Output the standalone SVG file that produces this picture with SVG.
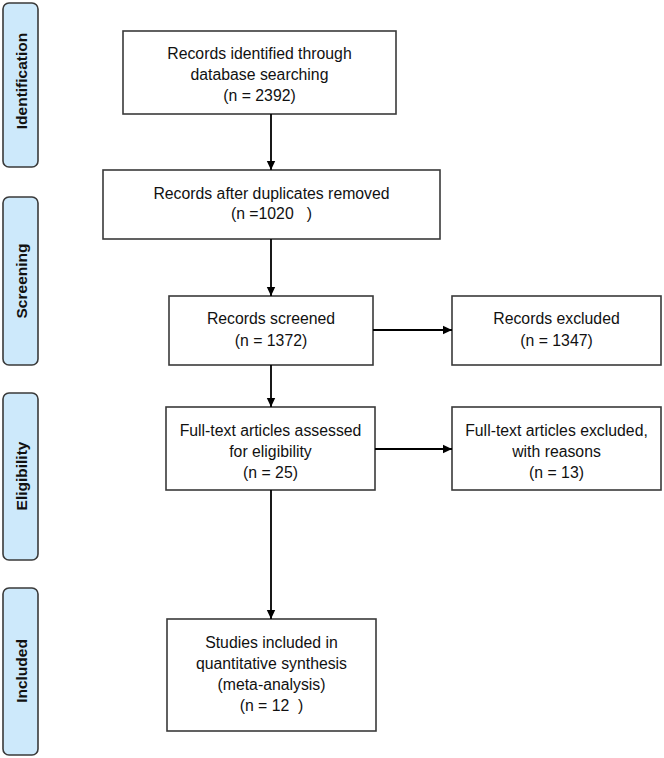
<svg xmlns="http://www.w3.org/2000/svg" width="664" height="758" viewBox="0 0 664 758">
<style>
.phase{fill:#cde9fb;stroke:#3a3a3a;stroke-width:1.6}
.box{fill:#fff;stroke:#3a3a3a;stroke-width:1.6}
.t{font-family:"Liberation Sans",Arial,sans-serif;font-size:15.8px;fill:#111;text-anchor:middle}
.pt{font-family:"Liberation Sans",Arial,sans-serif;font-size:15.5px;font-weight:bold;fill:#111;text-anchor:middle}
.c{stroke:#000;stroke-width:1.8;fill:none;marker-end:url(#ah)}
</style>
<defs>
<marker id="ah" markerWidth="10" markerHeight="10" refX="9" refY="5" orient="auto" markerUnits="userSpaceOnUse">
<path d="M0,0.8 L9,5 L0,9.2 Z" fill="#000"/>
</marker>
</defs>
<rect width="664" height="758" fill="#fff"/>
<g id="phase-identification">
<rect class="phase" x="3" y="3" width="35" height="164" rx="6"/>
<text class="pt" transform="translate(27,81) rotate(-90)">Identification</text>
</g>
<g id="phase-screening">
<rect class="phase" x="3" y="197" width="35" height="168" rx="6"/>
<text class="pt" transform="translate(27,281) rotate(-90)">Screening</text>
</g>
<g id="phase-eligibility">
<rect class="phase" x="3" y="393" width="35" height="167" rx="6"/>
<text class="pt" transform="translate(27,476) rotate(-90)">Eligibility</text>
</g>
<g id="phase-included">
<rect class="phase" x="3" y="588" width="35" height="167" rx="6"/>
<text class="pt" transform="translate(27,671) rotate(-90)">Included</text>
</g>
<g id="n-identified">
<rect class="box" x="123" y="31" width="273" height="83"/>
<text class="t" x="259.5" y="58.5">Records identified through</text>
<text class="t" x="259.5" y="79.5">database searching</text>
<text class="t" x="259.5" y="101">(n = 2392)</text>
</g>
<g id="n-deduplicated">
<rect class="box" x="103" y="170" width="337" height="69"/>
<text class="t" x="271.5" y="198.5">Records after duplicates removed</text>
<text class="t" x="271.5" y="218.5" xml:space="preserve">(n =1020   )</text>
</g>
<g id="n-screened">
<rect class="box" x="169" y="296" width="204" height="69"/>
<text class="t" x="271" y="323.5">Records screened</text>
<text class="t" x="271" y="345.5">(n = 1372)</text>
</g>
<g id="n-excluded">
<rect class="box" x="452" y="296" width="209" height="69"/>
<text class="t" x="556.5" y="323.5">Records excluded</text>
<text class="t" x="556.5" y="345.5">(n = 1347)</text>
</g>
<g id="n-fulltext">
<rect class="box" x="166" y="407" width="209" height="83"/>
<text class="t" x="270.5" y="435.5">Full-text articles assessed</text>
<text class="t" x="270.5" y="456.5">for eligibility</text>
<text class="t" x="270.5" y="477.5">(n = 25)</text>
</g>
<g id="n-fulltext-excluded">
<rect class="box" x="452" y="407" width="209" height="83"/>
<text class="t" x="556.5" y="435.5">Full-text articles excluded,</text>
<text class="t" x="556.5" y="456.5">with reasons</text>
<text class="t" x="556.5" y="477.5">(n = 13)</text>
</g>
<g id="n-included">
<rect class="box" x="167" y="619" width="209" height="112"/>
<text class="t" x="271.5" y="647.5">Studies included in</text>
<text class="t" x="271.5" y="668.5">quantitative synthesis</text>
<text class="t" x="271.5" y="689.5">(meta-analysis)</text>
<text class="t" x="271.5" y="710.5" xml:space="preserve">(n = 12  )</text>
</g>
<g id="connectors">
<line class="c" x1="271" y1="114" x2="271" y2="170"/>
<line class="c" x1="271" y1="239" x2="271" y2="296"/>
<line class="c" x1="271" y1="365" x2="271" y2="407"/>
<line class="c" x1="271" y1="490" x2="271" y2="619"/>
<line class="c" x1="373" y1="330" x2="452" y2="330"/>
<line class="c" x1="375" y1="449" x2="452" y2="449"/>
</g>
</svg>
